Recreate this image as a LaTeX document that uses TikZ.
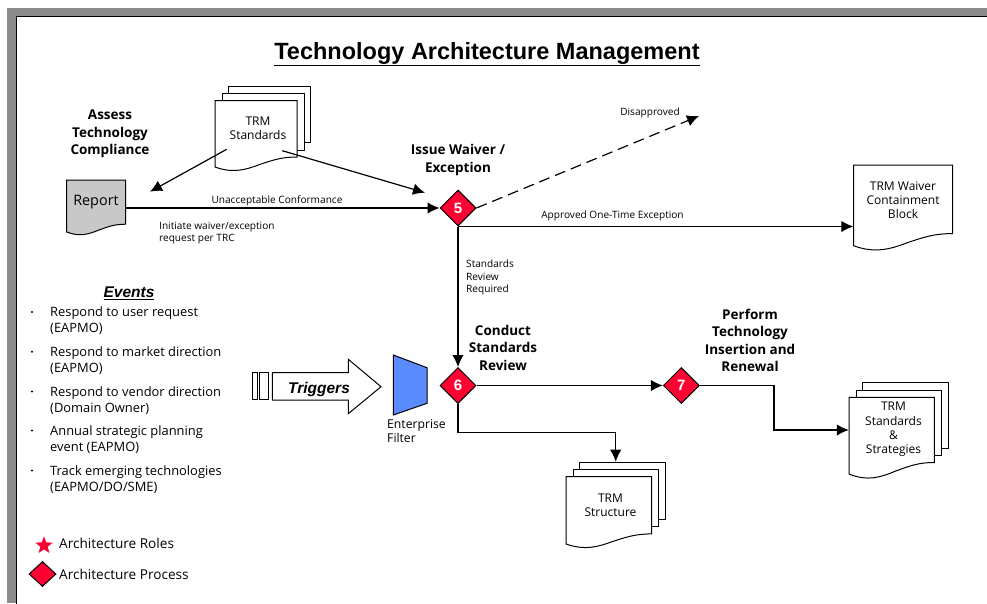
\documentclass[tikz,border=0pt]{standalone}
\usepackage{fontspec}
\setmainfont{Open Sans}
\newfontfamily\arialfont{Liberation Sans}
\usetikzlibrary{arrows.meta}
\usetikzlibrary{shapes.geometric}

\definecolor{framegray}{HTML}{8C8C8C}
\definecolor{reportgray}{HTML}{C8C8C8}
\definecolor{processred}{HTML}{FF0033}
\definecolor{filterblue}{HTML}{5B8CFF}

\newcommand{\fontpx}[2]{\fontsize{#1}{#2}\selectfont}

\newcommand{\docpage}[6]{
	\begin{scope}[shift={(#2,#3)}, x=#4pt, y=-#5pt]
		\draw [line width=1pt, fill=#6] (0,0) -- (1,0) -- (1,0.85)
			.. controls (0.82,0.85) and (0.72,0.89) .. (0.55,0.96)
			.. controls (0.38,1.04) and (0.22,1.10) .. (0,1) -- cycle;
		\node (#1) [draw=none, minimum width=#4pt, minimum height=#5pt] at (0.5,0.5) {};
	\end{scope}
}

\newcommand{\docstack}[5]{
	\pgfmathsetmacro{\sheetheight}{0.85*#5}
	\node (#1_back) [sheet, minimum width=#4pt, minimum height=\sheetheight pt] at (#2+13.4,#3-15) {};
	\node (#1_mid) [sheet, minimum width=#4pt, minimum height=\sheetheight pt] at (#2+6.7,#3-7.5) {};
	\docpage{#1}{#2}{#3}{#4}{#5}{white}
}

\begin{document}
\begin{tikzpicture}[
		x=1pt, y=-1pt,
		every node/.style={inner sep=0pt, align=center},
		sheet/.style={rectangle, draw, fill=white, line width=1pt, anchor=north west},
		flow/.style={line width=1.2pt, -{Latex[length=12pt, width=11.5pt]}},
		process/.style={diamond, draw, fill=processred, line width=1pt, minimum size=36pt, text=white, font=\arialfont\bfseries\fontpx{15}{15}},
		heading/.style={font=\bfseries\fontpx{13.5}{17.5}},
		doclabel/.style={font=\fontpx{12}{14.3}},
		flowlabel/.style={font=\fontpx{10.1}{12.7}},
		eventlabel/.style={anchor=west, align=left, font=\fontpx{12.9}{16}}
	]
	\useasboundingbox (0,0) rectangle (987,603);
	\fill [framegray] (7,8) rectangle (987,603);
	\draw [fill=white, line width=1pt] (16.5,16.5) rectangle (990,606);

	\node (title) [font=\arialfont\bfseries\fontpx{23.5}{23.5}] at (487,54) {\underline{Technology Architecture Management}};

	\docstack{trm_standards}{215}{100.5}{82}{66.5}
	\node (trm_standards_label) [doclabel] at (258,128) {TRM\\Standards};
	\docpage{report}{66.7}{180}{59}{52}{reportgray}
	\node (report_label) [font=\fontpx{14.4}{15}] at (96,202.5) {Report};
	\docpage{waiver}{853.5}{165}{99}{80.7}{white}
	\node (waiver_label) [doclabel] at (903,200) {TRM Waiver\\Containment\\Block};
	\docstack{structure}{566}{476.7}{85.7}{67.3}
	\node (structure_label) [doclabel] at (610.5,505) {TRM\\Structure};
	\docstack{strategies}{849}{397.3}{85.3}{76.7}
	\node (strategies_label) [doclabel] at (893.5,429.5) {TRM\\Standards\\\&\\Strategies};

	\node (proc_5) [process] at (458,208) {5};
	\node (proc_6) [process] at (458,385.5) {6};
	\node (proc_7) [process] at (681.3,385.5) {7};

	\node (assess) [heading] at (110,134) {Assess\\Technology\\Compliance};
	\node (issue) [heading] at (458,160) {Issue Waiver /\\Exception};
	\node (conduct) [heading] at (503,347.5) {Conduct\\Standards\\Review};
	\node (perform) [heading] at (750,340.5) {Perform\\Technology\\Insertion and\\Renewal};

	\coordinate (to_report) at (150,191.7);
	\coordinate (to_issue) at (425,192.7);
	\coordinate (from_standards_l) at (226.7,149.3);
	\coordinate (from_standards_r) at (282.3,150.7);
	\coordinate (disapproved_end) at (699,116);
	\coordinate (bend_6) at (615.7,432.3);
	\coordinate (bend_7) at (774,430);

	\draw [flow] (from_standards_l) -- (to_report);
	\draw [flow] (from_standards_r) -- (to_issue);
	\draw [flow] (report.east |- proc_5) -- (proc_5.west);
	\draw [flow, dashed, dash pattern=on 11pt off 6pt] (proc_5.east) -- (disapproved_end);
	\draw [flow] (proc_5.south) -- (waiver.west |- proc_5.south);
	\draw [flow] (proc_5.south) -- (proc_6.north);
	\draw [flow] (proc_6.east) -- (proc_7.west);
	\draw [flow] (proc_7.east) -| (bend_7) -- (strategies.west |- bend_7);
	\draw [flow] (proc_6.south) |- (bend_6) -- (bend_6 |- structure_back.north);

	\node (unacceptable) [flowlabel] at (277,200.5) {Unacceptable Conformance};
	\node (initiate) [flowlabel, anchor=west, align=left] at (159,233) {Initiate waiver/exception\\request per TRC};
	\node (approved) [flowlabel] at (612.5,215.5) {Approved One-Time Exception};
	\node (disapproved) [flowlabel] at (650,112.5) {Disapproved};
	\node (review_req) [flowlabel, anchor=west, align=left] at (466,277.5) {Standards\\Review\\Required};

	\node (events) [font=\arialfont\bfseries\itshape\fontpx{15.5}{15.5}] at (129,293) {\underline{Events}};
	\foreach \i/\y/\ev in {
		1/321/{Respond to user request\\(EAPMO)},
		2/360.7/{Respond to market direction\\(EAPMO)},
		3/400.5/{Respond to vendor direction\\(Domain Owner)},
		4/439.5/{Annual strategic planning\\event (EAPMO)},
		5/479.5/{Track emerging technologies\\(EAPMO/DO/SME)}}
	{
		\node (event_\i) [eventlabel] at (50,\y) {\ev};
		\node (dot_\i) [circle, fill, minimum size=2.4pt] at (32,\y-9) {};
	}

	\node (bar_a) [rectangle, draw, fill=white, line width=1pt, minimum width=5pt, minimum height=27.3pt] at (254.8,386.3) {};
	\node (bar_b) [rectangle, draw, fill=white, line width=1pt, minimum width=8.7pt, minimum height=27.3pt] at (264.3,386.3) {};
	\draw [line width=1pt, fill=white, line join=miter] (272.3,372.7) -- (348.3,372.7) -- (348.3,359.3) -- (381,386.7) -- (348.3,413.7) -- (348.3,400) -- (272.3,400) -- cycle;
	\node (triggers) [font=\arialfont\bfseries\itshape\fontpx{15.5}{15.5}] at (319,389) {Triggers};
	\draw [line width=1pt, fill=filterblue] (393.3,355) -- (427,367.7) -- (427,403.3) -- (393.3,415) -- cycle;
	\node (filter_label) [anchor=west, align=left, font=\fontpx{12.2}{14.5}] at (387,431) {Enterprise\\Filter};

	\node (role_star) [star, star points=5, star point ratio=2.4, fill=processred, minimum size=18.5pt] at (44,545.5) {};
	\node (role_label) [anchor=west, font=\fontpx{13.6}{14}] at (59,543.5) {Architecture Roles};
	\node (legend_proc) [diamond, draw, fill=processred, line width=1pt, minimum width=27pt, minimum height=25pt] at (42.5,574) {};
	\node (legend_label) [anchor=west, font=\fontpx{13.6}{14}] at (59,574) {Architecture Process};
\end{tikzpicture}
\end{document}
